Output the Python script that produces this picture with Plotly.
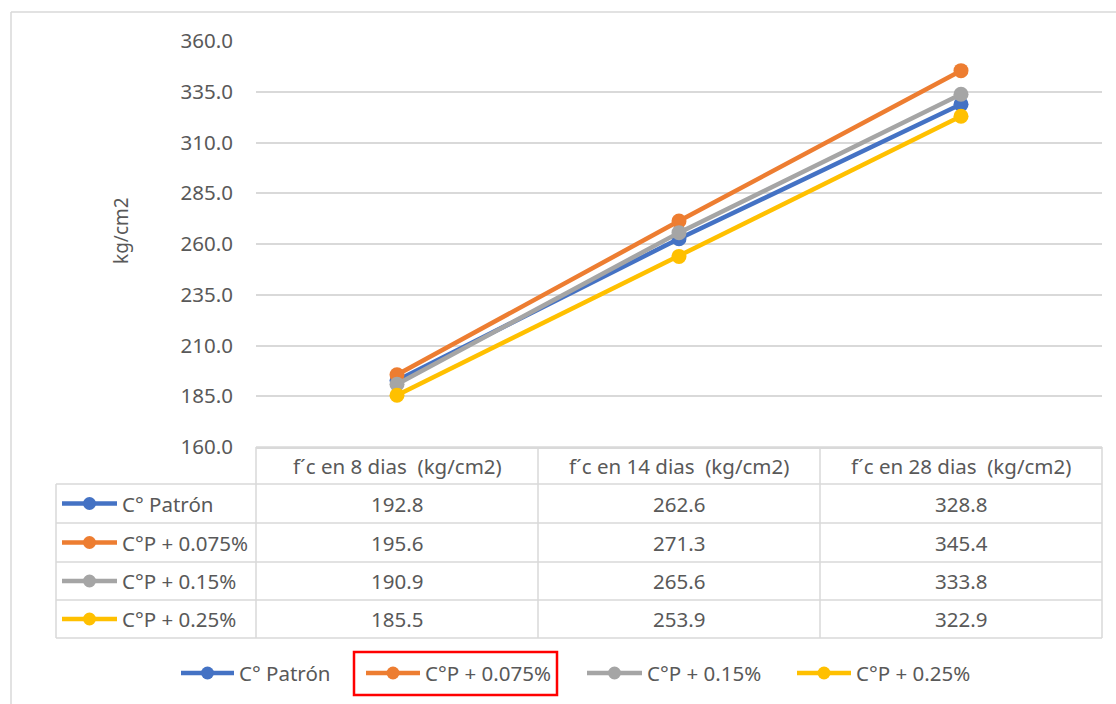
import plotly.graph_objects as go

# Compressive strength results (kg/cm2) per mix and curing age
categories = ["f´c en 8 dias\u00a0 (kg/cm2)", "f´c en 14 dias\u00a0 (kg/cm2)", "f´c en 28 dias\u00a0 (kg/cm2)"]
series_names = ["C° Patrón", "C°P + 0.075%", "C°P + 0.15%", "C°P + 0.25%"]
patron = [192.8, 262.6, 328.8]
cp_0075 = [195.6, 271.3, 345.4]
cp_015 = [190.9, 265.6, 333.8]
cp_025 = [185.5, 253.9, 322.9]
y_ticks = [160, 185, 210, 235, 260, 285, 310, 335, 360]

series_values = [patron, cp_0075, cp_015, cp_025]
colors = ["#4472C4", "#ED7D31", "#A5A5A5", "#FFC000"]

W, H = 1116, 704
L, R, T, B = 256, 1102, 41, 447  # plot area in pixels
FONT = "Noto Sans"
TXT = "#595959"
GRID = "#D9D9D9"
FS = 20.5


def px(x):
    return (x - L) / (R - L)


def py(y):
    return (B - y) / (B - T)


fig = go.Figure()
xs = list(range(len(categories)))
for name, vals, col in zip(series_names, series_values, colors):
    fig.add_trace(go.Scatter(
        x=xs, y=vals, name=name, mode="lines+markers",
        line=dict(color=col, width=4.5),
        marker=dict(color=col, size=15),
        showlegend=False, cliponaxis=False,
    ))

shapes = []
annotations = []


def hline(y, x0, x1, color=GRID, width=1.5):
    shapes.append(dict(type="line", xref="paper", yref="paper",
                       x0=px(x0), x1=px(x1), y0=py(y), y1=py(y),
                       line=dict(color=color, width=width)))


def vline(x, y0, y1, color=GRID, width=1.5):
    shapes.append(dict(type="line", xref="paper", yref="paper",
                       x0=px(x), x1=px(x), y0=py(y0), y1=py(y1),
                       line=dict(color=color, width=width)))


def key(x0, x1, y, color):
    shapes.append(dict(type="line", xref="paper", yref="paper",
                       x0=px(x0), x1=px(x1), y0=py(y), y1=py(y),
                       line=dict(color=color, width=4.5)))
    cx, r = (x0 + x1) / 2, 6.5
    shapes.append(dict(type="circle", xref="paper", yref="paper",
                       x0=px(cx - r), x1=px(cx + r), y0=py(y + r), y1=py(y - r),
                       fillcolor=color, line=dict(color=color, width=0)))


def text(x, y, s, anchor="center", size=FS, color=TXT):
    annotations.append(dict(xref="paper", yref="paper", x=px(x), y=py(y),
                            text=s, showarrow=False, xanchor=anchor, yanchor="middle",
                            font=dict(family=FONT, size=size, color=color)))


# Outer chart frame (left and top edges)
vline(11, 12, 704, color="#D9D9D9", width=1.5)
hline(12, 11, 1116, color="#D9D9D9", width=1.5)

# Data table below the plot
row_edges = [447, 484, 523, 562, 600, 638]
col_edges = [L + i * (R - L) / len(categories) for i in range(len(categories) + 1)]
table_left = 56
for i, y in enumerate(row_edges):
    hline(y, L if i == 0 else table_left, R)
for x in col_edges:
    vline(x, row_edges[0], row_edges[-1])
vline(table_left, row_edges[1], row_edges[-1])

for j, cat in enumerate(categories):
    cx = (col_edges[j] + col_edges[j + 1]) / 2
    text(cx, (row_edges[0] + row_edges[1]) / 2, cat)
for i, (name, vals, col) in enumerate(zip(series_names, series_values, colors)):
    cy = (row_edges[i + 1] + row_edges[i + 2]) / 2
    key(62, 117, cy, col)
    text(120, cy, name, anchor="left")
    for j, v in enumerate(vals):
        cx = (col_edges[j] + col_edges[j + 1]) / 2
        text(cx, cy, f"{v:.1f}")

# Legend along the bottom
legend_y = 673
legend_keys = [(181, 234), (366, 420), (587, 642), (797, 851)]
legend_text_x = [237, 423, 645, 854]
for (x0, x1), tx, name, col in zip(legend_keys, legend_text_x, series_names, colors):
    key(x0, x1, legend_y, col)
    text(tx, legend_y, name, anchor="left")

# Highlight box around the second legend entry
shapes.append(dict(type="rect", xref="paper", yref="paper",
                   x0=px(354), x1=px(557), y0=py(695), y1=py(652),
                   line=dict(color="#FF0000", width=2.5), fillcolor="rgba(0,0,0,0)"))

# Y axis title
annotations.append(dict(xref="paper", yref="paper", x=px(121), y=py(231),
                        text="kg/cm2", showarrow=False, textangle=-90,
                        xanchor="center", yanchor="middle",
                        font=dict(family=FONT, size=19, color=TXT)))

fig.update_layout(
    width=W, height=H,
    margin=dict(l=L, r=W - R, t=T, b=H - B, pad=0),
    paper_bgcolor="white", plot_bgcolor="white",
    font=dict(family=FONT, color=TXT, size=FS),
    xaxis=dict(range=[-0.5, len(categories) - 0.5], showgrid=False, zeroline=False,
               showticklabels=False, showline=True, linecolor=GRID, linewidth=1.5,
               fixedrange=True),
    yaxis=dict(range=[160, 360], tickvals=y_ticks, tickformat=".1f",
               showgrid=True, gridcolor=GRID, gridwidth=1.5, zeroline=False,
               showline=False, ticks="", ticklabelstandoff=22,
               tickfont=dict(family=FONT, size=FS, color=TXT), fixedrange=True),
    shapes=shapes, annotations=annotations,
)

fig.write_html("out.html")
